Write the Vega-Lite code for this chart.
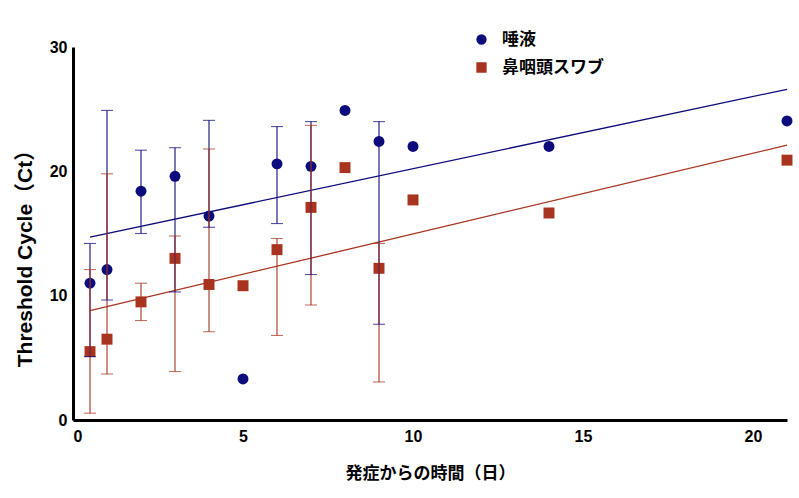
{
  "$schema": "https://vega.github.io/schema/vega-lite/v6.json",
  "description": "Ct values of saliva vs nasopharyngeal swab by days since onset",
  "autosize": {"type": "none"},
  "padding": {"left": 73, "top": 47, "right": 12, "bottom": 78},
  "width": 714,
  "height": 373,
  "background": "white",
  "config": {
    "view": {"stroke": null},
    "font": "Liberation Sans, Noto Sans CJK JP",
    "axis": {
      "domainColor": "black",
      "domainWidth": 3,
      "ticks": false,
      "grid": false,
      "labelFont": "Liberation Sans",
      "labelFontSize": 16,
      "labelFontWeight": "bold",
      "labelColor": "black",
      "titleFont": "Liberation Sans, Noto Sans CJK JP",
      "titleFontWeight": "bold",
      "titleColor": "black"
    },
    "legend": {
      "orient": "none",
      "legendX": 400,
      "legendY": -16,
      "labelFontSize": 17,
      "labelFontWeight": "bold",
      "labelColor": "black",
      "labelFont": "Noto Sans CJK JP",
      "labelOffset": 12,
      "rowPadding": 10,
      "symbolSize": 81,
      "symbolStrokeWidth": 1.3
    }
  },
  "datasets": {
    "pts": [
      {"day": 0.5, "ct": 11.0, "lo": 5.1, "hi": 14.2, "sample": "唾液"},
      {"day": 1, "ct": 12.1, "lo": 9.65, "hi": 24.9, "sample": "唾液"},
      {"day": 2, "ct": 18.4, "lo": 15.0, "hi": 21.7, "sample": "唾液"},
      {"day": 3, "ct": 19.6, "lo": 10.3, "hi": 21.9, "sample": "唾液"},
      {"day": 4, "ct": 16.4, "lo": 15.5, "hi": 24.1, "sample": "唾液"},
      {"day": 5, "ct": 3.3, "lo": null, "hi": null, "sample": "唾液"},
      {"day": 6, "ct": 20.6, "lo": 15.8, "hi": 23.6, "sample": "唾液"},
      {"day": 7, "ct": 20.4, "lo": 11.7, "hi": 24.0, "sample": "唾液"},
      {"day": 8, "ct": 24.9, "lo": null, "hi": null, "sample": "唾液"},
      {"day": 9, "ct": 22.4, "lo": 7.7, "hi": 24.0, "sample": "唾液"},
      {"day": 10, "ct": 22.0, "lo": null, "hi": null, "sample": "唾液"},
      {"day": 14, "ct": 22.0, "lo": null, "hi": null, "sample": "唾液"},
      {"day": 21, "ct": 24.05, "lo": null, "hi": null, "sample": "唾液"},
      {"day": 0.5, "ct": 5.5, "lo": 0.55, "hi": 12.1, "sample": "鼻咽頭スワブ"},
      {"day": 1, "ct": 6.5, "lo": 3.7, "hi": 19.8, "sample": "鼻咽頭スワブ"},
      {"day": 2, "ct": 9.5, "lo": 8.0, "hi": 11.0, "sample": "鼻咽頭スワブ"},
      {"day": 3, "ct": 13.0, "lo": 3.9, "hi": 14.8, "sample": "鼻咽頭スワブ"},
      {"day": 4, "ct": 10.9, "lo": 7.1, "hi": 21.8, "sample": "鼻咽頭スワブ"},
      {"day": 5, "ct": 10.8, "lo": null, "hi": null, "sample": "鼻咽頭スワブ"},
      {"day": 6, "ct": 13.7, "lo": 6.8, "hi": 14.6, "sample": "鼻咽頭スワブ"},
      {"day": 7, "ct": 17.1, "lo": 9.25, "hi": 23.7, "sample": "鼻咽頭スワブ"},
      {"day": 8, "ct": 20.3, "lo": null, "hi": null, "sample": "鼻咽頭スワブ"},
      {"day": 9, "ct": 12.2, "lo": 3.06, "hi": 14.2, "sample": "鼻咽頭スワブ"},
      {"day": 10, "ct": 17.7, "lo": null, "hi": null, "sample": "鼻咽頭スワブ"},
      {"day": 14, "ct": 16.65, "lo": null, "hi": null, "sample": "鼻咽頭スワブ"},
      {"day": 21, "ct": 20.9, "lo": null, "hi": null, "sample": "鼻咽頭スワブ"}
    ],
    "fit": [
      {"day": 0.5, "ct": 14.7, "sample": "唾液"},
      {"day": 21, "ct": 26.6, "sample": "唾液"},
      {"day": 0.5, "ct": 8.8, "sample": "鼻咽頭スワブ"},
      {"day": 21, "ct": 22.1, "sample": "鼻咽頭スワブ"}
    ]
  },
  "encoding": {
    "x": {
      "field": "day",
      "type": "quantitative",
      "scale": {"domain": [0, 21], "nice": false, "zero": true},
      "axis": {
        "values": [0, 5, 10, 15, 20],
        "labelPadding": 8,
        "title": "発症からの時間（日）",
        "titleFontSize": 17,
        "titlePadding": 21
      }
    },
    "y": {
      "field": "ct",
      "type": "quantitative",
      "scale": {"domain": [0, 30], "nice": false},
      "axis": {
        "values": [0, 10, 20, 30],
        "labelPadding": 6,
        "title": "Threshold Cycle（Ct）",
        "titleFontSize": 21,
        "titlePadding": 14,
        "titleY": 206
      }
    }
  },
  "layer": [
    {
      "data": {"name": "pts"},
      "mark": {"type": "point", "filled": true, "opacity": 1, "size": 120},
      "encoding": {
        "color": {
          "field": "sample",
          "type": "nominal",
          "title": null,
          "scale": {"domain": ["唾液", "鼻咽頭スワブ"], "range": ["#0c0c7c", "#a8341f"]},
          "legend": {
            "encode": {
              "symbols": {
                "update": {
                  "shape": {
                    "condition": {"test": "datum.value === '唾液'", "value": "M-2.3,0H2.3M1,0A1,1 0 1,1 -1,0A1,1 0 1,1 1,0Z"},
                    "value": "M-2.3,0H2.3M-1,-1H1V1H-1Z"
                  },
                  "stroke": {
                    "condition": {"test": "datum.value === '唾液'", "value": "#0c0c7c"},
                    "value": "#a8341f"
                  }
                }
              }
            }
          }
        },
        "shape": {
          "field": "sample",
          "type": "nominal",
          "scale": {"domain": ["唾液", "鼻咽頭スワブ"], "range": ["circle", "square"]},
          "legend": null
        }
      }
    },
    {
      "data": {"name": "fit"},
      "mark": {"type": "line", "strokeWidth": 1.3},
      "encoding": {
        "color": {"field": "sample", "type": "nominal", "title": null}
      }
    },
    {
      "data": {"name": "pts"},
      "mark": {"type": "rule", "strokeWidth": 1.1},
      "encoding": {
        "y": {"field": "lo", "type": "quantitative"},
        "y2": {"field": "hi"},
        "color": {"field": "sample", "type": "nominal", "title": null}
      }
    },
    {
      "data": {"name": "pts"},
      "mark": {"type": "tick", "orient": "horizontal", "size": 12, "thickness": 1.1},
      "encoding": {
        "y": {"field": "lo", "type": "quantitative"},
        "color": {"field": "sample", "type": "nominal", "title": null}
      }
    },
    {
      "data": {"name": "pts"},
      "mark": {"type": "tick", "orient": "horizontal", "size": 12, "thickness": 1.1},
      "encoding": {
        "y": {"field": "hi", "type": "quantitative"},
        "color": {"field": "sample", "type": "nominal", "title": null}
      }
    }
  ]
}
